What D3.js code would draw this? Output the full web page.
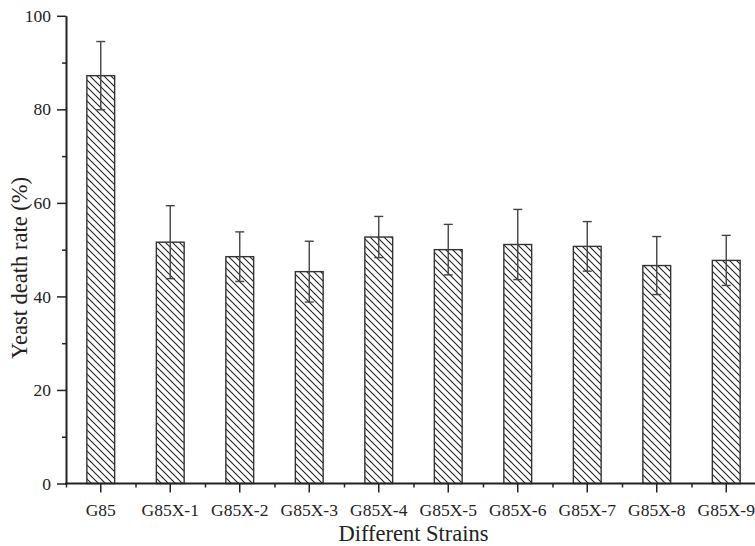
<!DOCTYPE html>
<html><head><meta charset="utf-8">
<script src="https://cdn.jsdelivr.net/npm/d3@7"></script>
<style>body{margin:0;background:#fff;} svg{display:block;}</style>
</head><body>
<svg id="c" width="755" height="546"></svg>
<script>
const categories = ["G85","G85X-1","G85X-2","G85X-3","G85X-4","G85X-5","G85X-6","G85X-7","G85X-8","G85X-9"];
const values = [87.2, 51.6, 48.5, 45.3, 52.7, 50.0, 51.1, 50.7, 46.6, 47.7];
const errors = [7.3, 7.8, 5.3, 6.5, 4.4, 5.4, 7.5, 5.3, 6.2, 5.35];
const yTicks = [0, 20, 40, 60, 80, 100];
const yMinorTicks = [10, 30, 50, 70, 90];

const svg = d3.select("#c");
const font = "'Liberation Serif','Times New Roman',serif";
const x0 = 66, x1 = 761, yTop = 15.8, yBot = 483.5;

const x = d3.scaleBand().domain(categories).range([x0, x1]).paddingInner(0.6).paddingOuter(0.3);
const y = d3.scaleLinear().domain([0, 100]).range([yBot, yTop]);
const step = x.step();

const defs = svg.append("defs");
const pat = defs.append("pattern").attr("id","hatch").attr("patternUnits","userSpaceOnUse")
  .attr("width", 7).attr("height", 7);
pat.append("rect").attr("width",7).attr("height",7).attr("fill","#fff");
pat.append("path").attr("d","M-1,-1 L8,8 M-8,-1 L1,8 M6,-1 L15,8")
  .attr("stroke","#222").attr("stroke-width",1.1);

// bars
svg.selectAll("rect.bar").data(categories).join("rect").attr("class","bar")
  .attr("x", d => x(d)).attr("width", x.bandwidth())
  .attr("y", (d,i) => y(values[i])).attr("height", (d,i) => y(0) - y(values[i]))
  .attr("fill","url(#hatch)").attr("stroke","#333").attr("stroke-width",1.4);

// error bars
const eg = svg.append("g").attr("stroke","#444").attr("stroke-width",1.4).attr("fill","none");
categories.forEach((c,i) => {
  const cx = x(c) + x.bandwidth()/2;
  const top = y(values[i] + errors[i]), bot = y(values[i] - errors[i]);
  eg.append("line").attr("x1",cx).attr("x2",cx).attr("y1",top).attr("y2",bot);
  eg.append("line").attr("x1",cx-4.5).attr("x2",cx+4.5).attr("y1",top).attr("y2",top);
  eg.append("line").attr("x1",cx-4.5).attr("x2",cx+4.5).attr("y1",bot).attr("y2",bot);
});

// y axis
const yAxis = svg.append("g").attr("transform",`translate(${x0},0)`)
  .call(d3.axisLeft(y).tickValues(yTicks).tickSize(9).tickSizeOuter(0).tickPadding(6).tickFormat(d3.format("d")));
yAxis.select(".domain").attr("stroke","#222").attr("stroke-width",2);
yAxis.selectAll(".tick line").attr("stroke","#222").attr("stroke-width",1.5);
yAxis.selectAll(".tick text").attr("font-family",font).attr("font-size",17.5).attr("fill","#222");
const yMinor = svg.append("g").attr("transform",`translate(${x0},0)`)
  .call(d3.axisLeft(y).tickValues(yMinorTicks).tickSize(4).tickSizeOuter(0).tickFormat(""));
yMinor.select(".domain").remove();
yMinor.selectAll(".tick line").attr("stroke","#222").attr("stroke-width",1.5);

// x axis
const xAxis = svg.append("g").attr("transform",`translate(0,${yBot})`)
  .call(d3.axisBottom(x).tickSize(9).tickSizeOuter(0).tickPadding(11));
xAxis.select(".domain").attr("stroke","#222").attr("stroke-width",2).attr("d",`M${x0-1},0H${x1}`);
xAxis.selectAll(".tick line").attr("stroke","#222").attr("stroke-width",1.5);
xAxis.selectAll(".tick text").attr("font-family",font).attr("font-size",17.5).attr("fill","#222");
const bounds = d3.range(categories.length + 1).map(k => x0 + k*step);
const xMinorScale = d3.scaleLinear().domain([x0,x1]).range([x0,x1]);
const xMinor = svg.append("g").attr("transform",`translate(0,${yBot})`)
  .call(d3.axisBottom(xMinorScale).tickValues(bounds).tickSize(4).tickSizeOuter(0).tickFormat(""));
xMinor.select(".domain").remove();
xMinor.selectAll(".tick line").attr("stroke","#222").attr("stroke-width",1.5);

// titles
svg.append("text").attr("x",(x0+x1)/2).attr("y",540.5).attr("text-anchor","middle")
  .attr("font-family",font).attr("font-size",22.5).attr("fill","#222").text("Different Strains");
svg.append("text").attr("transform","translate(26.5,268) rotate(-90)").attr("text-anchor","middle")
  .attr("font-family",font).attr("font-size",22.5).attr("fill","#222").text("Yeast death rate (%)");
</script>
</body></html>
